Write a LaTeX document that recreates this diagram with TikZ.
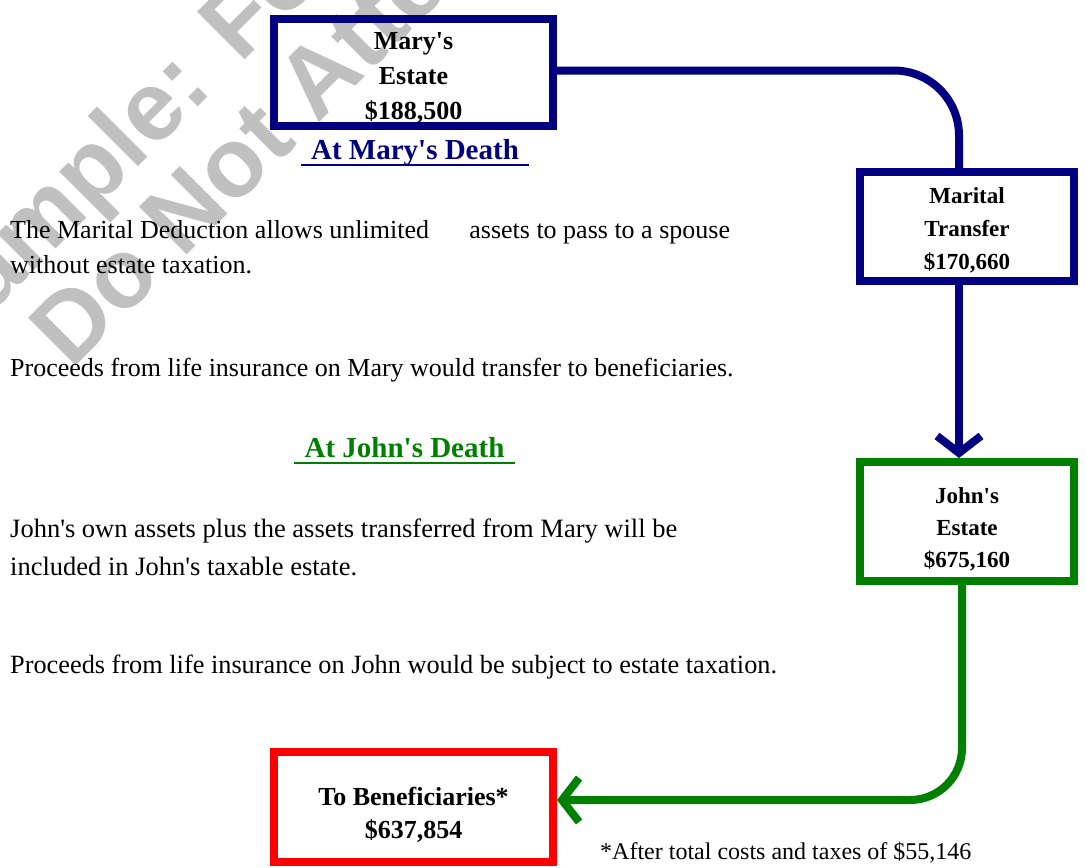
\documentclass[tikz,border=0pt]{standalone}
\usepackage{fontspec}
\setmainfont{Liberation Serif}[Ligatures=TeXOff]
\newfontfamily\wmfont{Liberation Sans}
\usetikzlibrary{arrows.meta}
\definecolor{maryblue}{HTML}{000080}
\definecolor{johngreen}{HTML}{008000}
\definecolor{benred}{HTML}{FF0000}
\definecolor{wmgray}{HTML}{C0C0C0}
\newcommand\topgap[1]{\rule{0pt}{#1}}
\tikzset{
  est/.style={draw=#1, line width=8pt, align=center, inner sep=0pt,
              font=\bfseries\fontsize{26}{35}\selectfont},
  est/.default=maryblue,
  flow/.style={draw=#1, line width=8pt},
  flowarr/.style={flow=#1, -{Straight Barb[length=17pt, width=44pt, sharp]}},
  body/.style={anchor=base west, inner sep=0pt, font=\fontsize{26}{35}\selectfont},
  hd/.style={text=#1, font=\bfseries\fontsize{29}{35}\selectfont, inner xsep=10pt,
             inner ysep=5pt, text depth=0pt, anchor=south},
  ul/.style={draw=#1, line width=2.5pt},
  wm/.style={text=wmgray, font=\wmfont\bfseries\fontsize{98}{98}\selectfont, rotate=45,
             anchor=base west, inner sep=0pt},
}

\begin{document}
\begin{tikzpicture}[x=1pt, y=-1pt]
  \useasboundingbox[fill=white] (0,0) rectangle (1086,867);
  \node[wm] (wm1) at (-55,360) {Sample: Fo};
  \node[wm] (wm2) at (71,371) {Do Not Atte};

  \node[est=maryblue, minimum width=279pt, minimum height=107pt] (mary) at (413.5,72.5) {\topgap{28pt}Mary's\\Estate\\\$188,500};
  \node[est=maryblue, minimum width=214pt, minimum height=109pt, font=\bfseries\fontsize{23}{33}\selectfont] (marital) at (967,226.5) {\topgap{24pt}Marital\\Transfer\\\$170,660};
  \node[est=johngreen, minimum width=214pt, minimum height=119pt, font=\bfseries\fontsize{23}{32}\selectfont] (john) at (967,521.5) {\topgap{32pt}John's\\Estate\\\$675,160};
  \node[est=benred, minimum width=279pt, minimum height=110pt, font=\bfseries\fontsize{26}{33}\selectfont] (benef) at (413.5,807) {\topgap{34pt}To Beneficiaries*\\\$637,854};

  \node[hd=maryblue] (hdmary) at (415,165) {At Mary's Death};
  \draw[ul=maryblue] (hdmary.south west) -- (hdmary.south east);
  \node[hd=johngreen] (hdjohn) at (404.5,463) {At John's Death};
  \draw[ul=johngreen] (hdjohn.south west) -- (hdjohn.south east);

  \node[body] (mdA) at (10,238) {The Marital Deduction allows unlimited\hspace{1.55em}assets to pass to a spouse};
  \node[body] (mdB) at (10,273) {without estate taxation.};
  \node[body] (insmary) at (10,376) {Proceeds from life insurance on Mary would transfer to beneficiaries.};
  \node[body, font=\fontsize{26.5}{35}\selectfont] (jaA) at (10,537) {John's own assets plus the assets transferred from Mary will be};
  \node[body, font=\fontsize{26.5}{35}\selectfont] (jaB) at (10,575) {included in John's taxable estate.};
  \node[body, font=\fontsize{26.3}{35}\selectfont] (insjohn) at (10,673) {Proceeds from life insurance on John would be subject to estate taxation.};
  \node[body, font=\fontsize{24}{30}\selectfont] (fnote) at (600,859) {*After total costs and taxes of \$55,146};

  \draw[flow=maryblue, rounded corners=65pt] ([yshift=2pt]mary.east) -| ([xshift=-8pt]marital.north);
  \draw[flowarr=maryblue] ([xshift=-8pt]marital.south) -- ([xshift=-8pt]john.north);
  \draw[flowarr=johngreen, rounded corners=52pt] ([xshift=-5pt]john.south) |- ([yshift=7pt]benef.east);
\end{tikzpicture}
\end{document}
